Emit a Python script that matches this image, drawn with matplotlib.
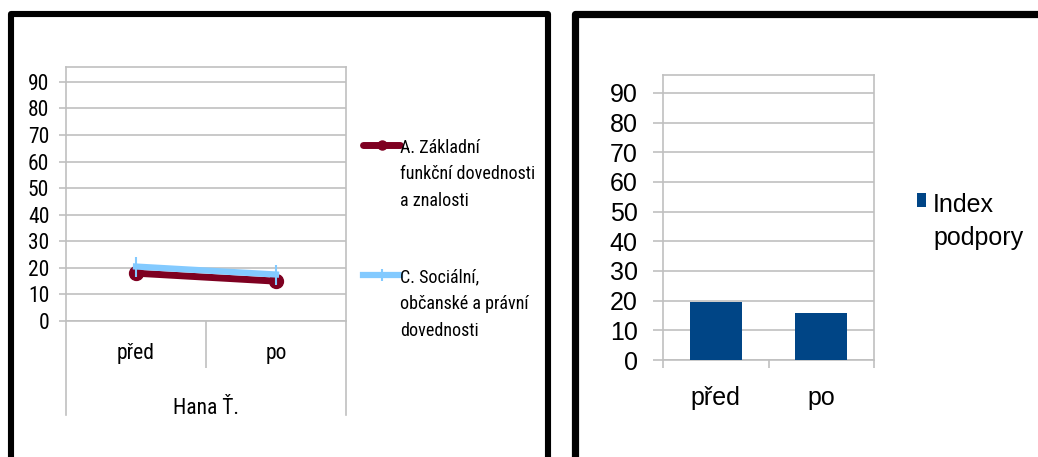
import matplotlib
matplotlib.use('Agg')
import matplotlib.pyplot as plt
from matplotlib import font_manager
from matplotlib.patches import Rectangle

# ---- data ----
categories = ['před', 'po']
person = 'Hana Ť.'
series_a_label = 'A. Základní\nfunkční dovednosti\na znalosti'
series_a = [18, 15]
series_c_label = 'C. Sociální,\nobčanské a právní\ndovednosti'
series_c = [20.5, 17.5]
index_label = 'Index\npodpory'
index_values = [19.5, 16]
yticks = list(range(0, 100, 10))

# ---- style ----
fl = font_manager.fontManager.ttflist
names = {f.name for f in fl}
NARROW, NSTRETCH = None, 'normal'
for cand in ['Liberation Sans Narrow', 'Arial Narrow', 'Roboto Condensed',
             'Noto Sans Condensed', 'Open Sans Condensed', 'DejaVu Sans Condensed']:
    if cand in names:
        NARROW = cand
        break
if NARROW is None:
    if any(f.name == 'DejaVu Sans' and f.stretch in ('condensed', 'semi-condensed')
           for f in fl):
        NARROW, NSTRETCH = 'DejaVu Sans', 'condensed'
    else:
        NARROW = 'Liberation Sans'
SANS = 'Liberation Sans'
GRID = '#c0c0c0'
RED = '#7E0021'
LBLUE = '#83CAFF'
DBLUE = '#004586'

W, H = 1038, 457
fig = plt.figure(figsize=(W / 100, H / 100), dpi=100)


def px_axes(l, t, r, b):
    return fig.add_axes([l / W, 1 - b / H, (r - l) / W, (b - t) / H])


def hook_legend_top(leg):
    for col in leg._legend_handle_box.get_children():
        for item in col.get_children():
            item.align = 'top'


# frames
fig.add_artist(Rectangle((11 / W, 1 - 480 / H), (547.5 - 11) / W, (480 - 13.5) / H,
                         transform=fig.transFigure, fill=False, ec='black', lw=4.4,
                         joinstyle='round'))
fig.add_artist(Rectangle((575 / W, 1 - 480 / H), (1060 - 575) / W, (480 - 14) / H,
                         transform=fig.transFigure, fill=False, ec='black', lw=5.2,
                         joinstyle='round'))

# ---- left: line chart ----
ax1 = px_axes(66, 67, 346, 321)
x = list(range(len(categories)))
ax1.plot(x, series_a, color=RED, lw=5, marker='o', ms=10, label=series_a_label,
         solid_capstyle='round', zorder=3)
ax1.plot(x, series_c, color=LBLUE, lw=4.5, marker='|', ms=14, mew=1.5,
         label=series_c_label, zorder=4)
ax1.set_xlim(-0.5, 1.5)
ax1.set_ylim(0, 95.6)
ax1.set_yticks(yticks)
ax1.yaxis.grid(True, color=GRID, lw=1.2)
ax1.set_axisbelow(True)
for s in ax1.spines.values():
    s.set_color(GRID)
    s.set_linewidth(1.2)
ax1.tick_params(axis='y', length=5, color=GRID, width=1.2, pad=7, labelsize=15.5)
ax1.set_xticks(x, categories)
ax1.tick_params(axis='x', which='major', length=0, pad=16, labelsize=15.5)
ax1.set_xticks([0.5], minor=True)
ax1.tick_params(axis='x', which='minor', length=34, color=GRID, width=1.2)
for lab in ax1.get_xticklabels() + ax1.get_yticklabels():
    lab.set_fontfamily(NARROW)
    lab.set_fontstretch(NSTRETCH)
for xv in (-0.5, 1.5):
    ax1.axvline(xv, ymin=-94 / 254, ymax=0, clip_on=False, color=GRID, lw=1.2)
ax1.set_xlabel(person, fontsize=15.5, fontfamily=NARROW, fontstretch=NSTRETCH, labelpad=18)

leg1 = ax1.legend(loc='upper left', bbox_to_anchor=(363 / W, 1 - 139 / H),
                  bbox_transform=fig.transFigure, frameon=False, borderpad=0,
                  borderaxespad=0, handlelength=2.05, handletextpad=0.0,
                  labelspacing=3.27, markerscale=0.65,
                  prop={'family': NARROW, 'stretch': NSTRETCH, 'size': 13})
for t in leg1.get_texts():
    t.set_linespacing(1.6)
hook_legend_top(leg1)

# ---- right: bar chart ----
ax2 = px_axes(663, 75, 874, 360)
ax2.bar(x, index_values, width=0.49, color=DBLUE, label=index_label, zorder=3)
ax2.set_xlim(-0.5, 1.5)
ax2.set_ylim(0, 96.06)
ax2.set_yticks(yticks)
ax2.yaxis.grid(True, color=GRID, lw=1.2)
ax2.set_axisbelow(True)
for s in ax2.spines.values():
    s.set_color(GRID)
    s.set_linewidth(1.2)
ax2.tick_params(axis='y', length=7.2, color=GRID, width=1.2, pad=11, labelsize=18)
ax2.set_xticks(x, categories)
ax2.tick_params(axis='x', which='major', length=0, pad=19, labelsize=18)
ax2.set_xticks([-0.5, 0.5, 1.5], minor=True)
ax2.tick_params(axis='x', which='minor', length=5.8, color=GRID, width=1.2)
for lab in ax2.get_xticklabels() + ax2.get_yticklabels():
    lab.set_fontfamily(SANS)

leg2 = ax2.legend(loc='upper left', bbox_to_anchor=(917 / W, 1 - 193 / H),
                  bbox_transform=fig.transFigure, frameon=False, borderpad=0,
                  borderaxespad=0, handlelength=0.36, handleheight=0.48,
                  handletextpad=0.28, prop={'family': SANS, 'size': 18})
for t in leg2.get_texts():
    t.set_linespacing(1.45)
hook_legend_top(leg2)

fig.savefig('out.png', dpi=100)
